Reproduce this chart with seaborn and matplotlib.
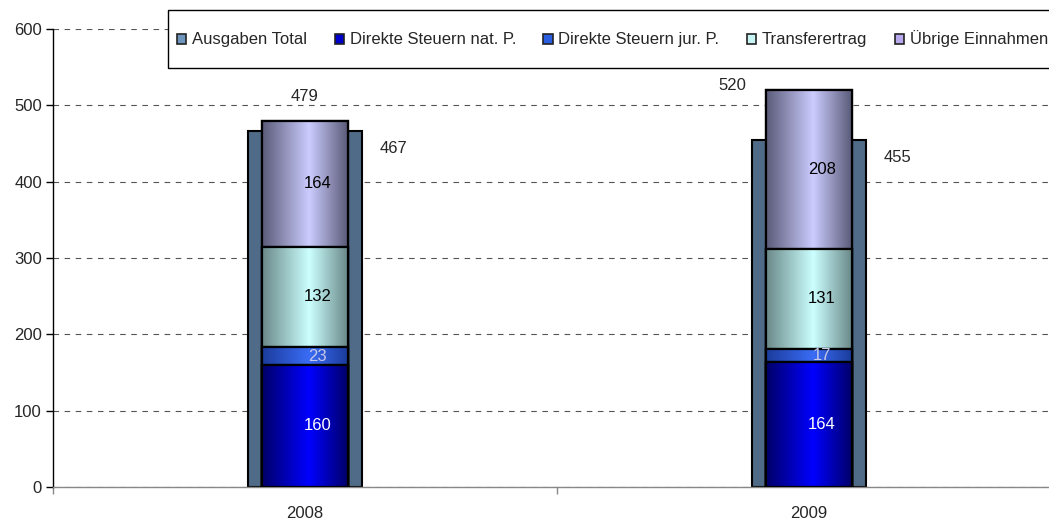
import numpy as np
import pandas as pd
import matplotlib
matplotlib.use("Agg")
import matplotlib.pyplot as plt
from matplotlib.colors import LinearSegmentedColormap
from matplotlib.patches import Rectangle
import seaborn as sns

years = ["2008", "2009"]
ausgaben_total = [467, 455]
steuern_nat = [160, 164]
steuern_jur = [23, 17]
transferertrag = [132, 131]
uebrige = [164, 208]
series_names = ["Ausgaben Total", "Direkte Steuern nat. P.", "Direkte Steuern jur. P.",
                "Transferertrag", "Übrige Einnahmen"]

sns.set_style("white")
plt.rcParams["font.family"] = ["Liberation Sans", "DejaVu Sans"]
plt.rcParams["font.size"] = 12

W, H = 1049, 521
fig = plt.figure(figsize=(W / 100, H / 100), dpi=100)
ax = fig.add_axes([53 / W, 34 / H, 1008 / W, 458 / H])

# (edge colour, centre colour) for the shaded stacked segments
seg_colors = {
    "Übrige Einnahmen": ("#5a5a78", "#ccccff"),
    "Transferertrag": ("#6a8888", "#ccffff"),
    "Direkte Steuern jur. P.": ("#1b3c9c", "#3a6cf5"),
    "Direkte Steuern nat. P.": ("#000068", "#0000ff"),
}
legend_colors = ["#6e95bd", "#0000cc", "#2a5ee0", "#c8f4f4", "#b8a8ee"]

df = pd.DataFrame({"year": years})

# outer bar: total expenditure
sns.barplot(data=df.assign(v=ausgaben_total), x="year", y="v", color="#4f6b87",
            saturation=1, width=0.228, edgecolor="black", linewidth=1.5, ax=ax, zorder=2)

# stacked income bars, drawn as cumulative heights from the top down
cum = np.cumsum([steuern_nat, steuern_jur, transferertrag, uebrige], axis=0)
order = ["Direkte Steuern nat. P.", "Direkte Steuern jur. P.", "Transferertrag", "Übrige Einnahmen"]
zo = 3
for i in range(3, -1, -1):
    name = order[i]
    n_before = len(ax.patches)
    sns.barplot(data=df.assign(v=cum[i]), x="year", y="v", color=seg_colors[name][1],
                saturation=1, width=0.17, edgecolor="black", linewidth=1.6, ax=ax, zorder=zo)
    new = ax.patches[n_before:]
    edge, centre = seg_colors[name]
    cmap = LinearSegmentedColormap.from_list(
        name, [(0, edge), (0.55, centre), (1, edge)])
    grad = np.linspace(0, 1, 256)[None, :]
    for p in new:
        x0, y0 = p.get_x(), p.get_y()
        w, h = p.get_width(), p.get_height()
        im = ax.imshow(grad, cmap=cmap, extent=[x0, x0 + w, y0, y0 + h],
                       aspect="auto", zorder=zo + 0.1, interpolation="bilinear")
        im.set_clip_path(p)
        ax.add_patch(Rectangle((x0, y0), w, h, fill=False, edgecolor="black",
                               linewidth=1.6, zorder=zo + 0.2))
    zo += 1

ax.set_xlim(-0.5, 1.5)
ax.set_ylim(0, 600)
ax.set_yticks(range(0, 601, 100))
ax.yaxis.grid(True, linestyle=(0, (5, 5)), color="#555555", linewidth=0.8)
ax.set_axisbelow(True)
ax.set_xlabel("")
ax.set_ylabel("")

for s in ["top", "right"]:
    ax.spines[s].set_visible(False)
ax.spines["left"].set_color("black")
ax.spines["left"].set_linewidth(1.0)
ax.spines["bottom"].set_color("#888888")
ax.spines["bottom"].set_linewidth(1.0)

ax.tick_params(axis="y", direction="out", length=5, width=1, color="black", pad=3, left=True)
ax.set_xticks([0, 1])
ax.set_xticklabels(years)
ax.set_xticks([-0.5, 0.5, 1.5], minor=True)
ax.tick_params(axis="x", which="major", length=0, pad=14)
ax.tick_params(axis="x", which="minor", direction="out", length=5, width=1, color="#888888", bottom=True)

# segment labels
label_colors = ["white", "#c8c8e8", "black", "black"]
for i, name in enumerate(order):
    vals = [steuern_nat, steuern_jur, transferertrag, uebrige][i]
    for j in range(len(years)):
        mid = cum[i][j] - vals[j] / 2
        ax.text(j + 0.025, mid, str(vals[j]), ha="center", va="center",
                color=label_colors[i], zorder=20)

# income totals
income_total = cum[3]
ax.annotate(str(income_total[0]), (0, income_total[0]), xytext=(0, 18),
            textcoords="offset points", ha="center", va="center", zorder=20)
ax.annotate(str(income_total[1]), (1, income_total[1]), xytext=(-55, 3),
            textcoords="offset points", ha="center", va="center", zorder=20)
# expenditure totals
for j in range(len(years)):
    ax.annotate(str(ausgaben_total[j]), (j + 0.114, ausgaben_total[j]), xytext=(22, -13),
                textcoords="offset points", ha="center", va="center", zorder=20)

# legend: one row inside a plain box running off the right edge
fig.patches.append(Rectangle((168 / W, 1 - 68 / H), 900 / W, 58 / H, transform=fig.transFigure,
                             facecolor="white", edgecolor="black", linewidth=1.0, zorder=29))
handles = [Rectangle((0, 0), 1, 1, facecolor=c, edgecolor="#222222", linewidth=1.2)
           for c in legend_colors]
leg = fig.legend(handles, series_names, ncol=5, loc="center left",
                 bbox_to_anchor=(177 / W, 1 - 39 / H), frameon=False,
                 handlelength=0.55, handleheight=0.55, handletextpad=0.35,
                 columnspacing=1.65, borderpad=0, borderaxespad=0, fontsize=12)
leg.set_zorder(30)

fig.savefig("out.png", dpi=100)
